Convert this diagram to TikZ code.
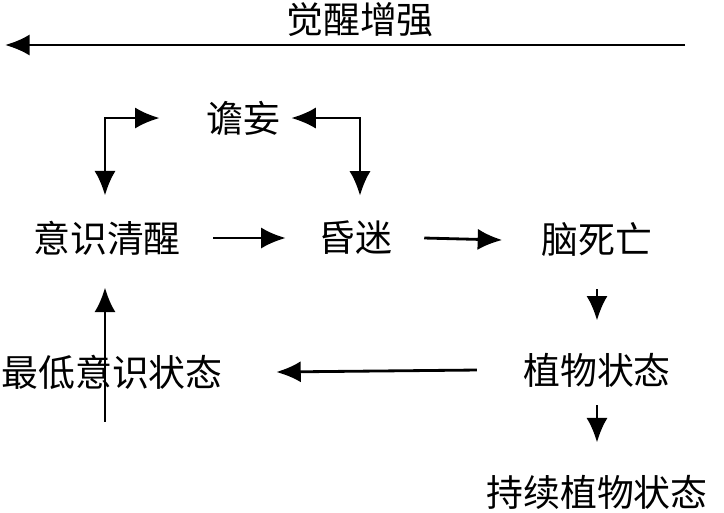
\documentclass[tikz,border=0pt]{standalone}
\usepackage{fontspec}
\newfontfamily\cjk{Noto Sans CJK SC}
\usetikzlibrary{arrows.meta}
\tikzset{
	state/.style={font=\cjk\fontsize{10.5}{12}\selectfont, inner sep=1pt},
	link/.style={thick, -{Latex[length=7pt,width=6pt]}},
	twolink/.style={thick, {Latex[length=7pt,width=6pt]}-{Latex[length=7pt,width=6pt]}}
}
\begin{document}
\begin{tikzpicture}[x=0.1mm, y=-0.1mm]
				\useasboundingbox (0,0) rectangle (724,512);
				\node[state] (title) at (360,20) {觉醒增强};
				\coordinate (wakeR) at (685,45);
				\coordinate (wakeL) at (5,45);
				\draw[link] (wakeR) -- (wakeL);
				\node[state] (delir) at (243,118) {谵妄};
				\node[state] (awake) at (107,238) {意识清醒};
				\node[state] (coma) at (355,238) {昏迷};
				\node[state] (death) at (597,240) {脑死亡};
				\node[state] (mcs) at (112,372) {最低意识状态};
				\node[state] (veg) at (597,370) {植物状态};
				\node[state] (pvs) at (597,492) {持续植物状态};
				\draw[twolink] ([xshift=-12pt]delir.west) -| ([yshift=6pt]awake.north -| 105,0);
				\draw[twolink] ([xshift=2pt]delir.east) -| ([yshift=6pt]coma.north -| 360,0);
				\draw[link] ([xshift=8pt]awake.east) -- ([xshift=-8pt]coma.west);
				\draw[link] ([xshift=8pt]coma.east) -- ([xshift=-10pt]death.west);
				\draw[link] ([yshift=-8pt]death.south) -- ([yshift=8pt]veg.north);
				\draw[link] ([xshift=-12pt]veg.west) -- ([xshift=14pt]mcs.east);
				\draw[link] ([yshift=-8pt]mcs.south -| 105,0) -- ([yshift=-8pt]awake.south -| 105,0);
				\draw[link] ([yshift=-4pt]veg.south) -- ([yshift=8pt]pvs.north);
			\end{tikzpicture}
\end{document}
